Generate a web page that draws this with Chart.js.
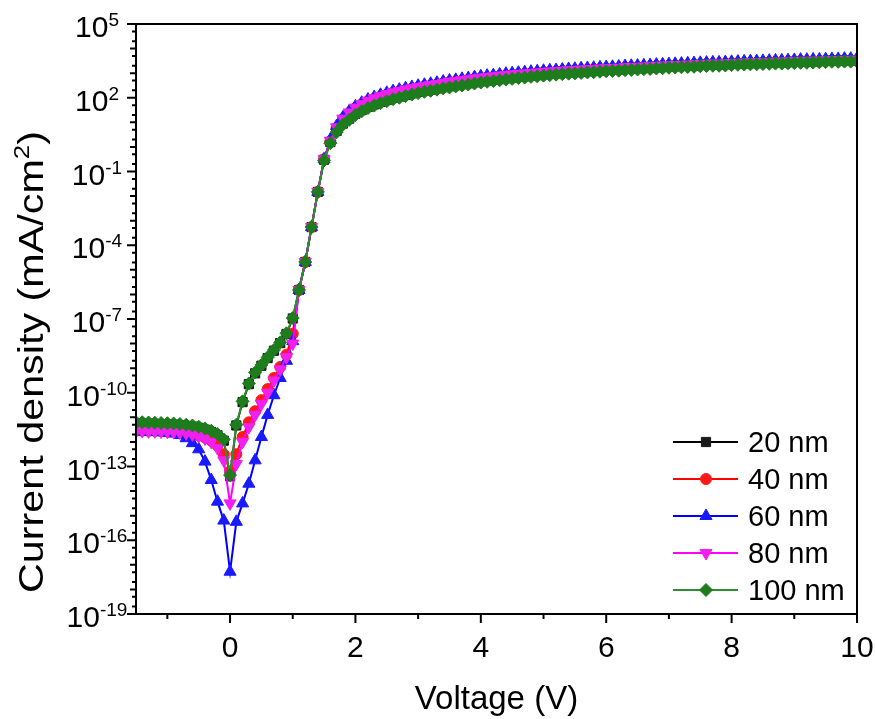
<!DOCTYPE html>
<html>
<head>
<meta charset="utf-8">
<script src="https://cdn.jsdelivr.net/npm/chart.js@4.4.1/dist/chart.umd.min.js"></script>
<style>
  html, body { margin: 0; padding: 0; background: #ffffff; }
  #wrap { width: 875px; height: 719px; }
</style>
</head>
<body>
<div id="wrap"><canvas id="jv" width="875" height="719"></canvas></div>
<script>
// Applied voltage (V)
const voltage = [
  -1.5,-1.4,-1.3,-1.2,-1.1,-1.0,-0.9,-0.8,-0.7,-0.6,-0.5,-0.4,-0.3,-0.2,-0.1,0.0,
  0.1,0.2,0.3,0.4,0.5,0.6,0.7,0.8,0.9,1.0,
  1.1,1.2,1.3,1.4,1.5,1.6,1.7,1.8,1.9,2.0,
  2.1,2.2,2.3,2.4,2.5,2.6,2.7,2.8,2.9,3.0,
  3.1,3.2,3.3,3.4,3.5,3.6,3.7,3.8,3.9,4.0,
  4.1,4.2,4.3,4.4,4.5,4.6,4.7,4.8,4.9,5.0,
  5.1,5.2,5.3,5.4,5.5,5.6,5.7,5.8,5.9,6.0,
  6.1,6.2,6.3,6.4,6.5,6.6,6.7,6.8,6.9,7.0,
  7.1,7.2,7.3,7.4,7.5,7.6,7.7,7.8,7.9,8.0,
  8.1,8.2,8.3,8.4,8.5,8.6,8.7,8.8,8.9,9.0,
  9.1,9.2,9.3,9.4,9.5,9.6,9.7,9.8,9.9,10.0
];

// Current density, in decades: log10(J / mA cm^-2)
const logJ20 = [
  -11.25,-11.25,-11.26,-11.27,-11.28,-11.29,-11.3,-11.32,-11.35,-11.38,-11.43,-11.5,-11.6,-11.73,-11.95,-13.4,
  -11.33,-10.38,-9.65,-9.21,-8.9,-8.59,-8.29,-7.98,-7.61,-6.98,
  -5.82,-4.68,-3.26,-1.83,-0.52,0.2,0.65,0.95,1.15,1.35,
  1.5,1.63,1.73,1.83,1.91,1.99,2.05,2.12,2.18,2.24,
  2.29,2.33,2.38,2.43,2.47,2.51,2.55,2.59,2.63,2.67,
  2.7,2.73,2.76,2.79,2.82,2.85,2.87,2.9,2.92,2.95,
  2.97,2.99,3.01,3.03,3.04,3.06,3.08,3.09,3.11,3.13,
  3.14,3.15,3.17,3.18,3.2,3.21,3.22,3.24,3.25,3.27,
  3.28,3.29,3.3,3.31,3.33,3.34,3.35,3.35,3.36,3.38,
  3.39,3.4,3.41,3.41,3.42,3.43,3.44,3.44,3.45,3.46,
  3.47,3.47,3.48,3.49,3.5,3.51,3.51,3.52,3.52,3.53
];
const logJ40 = [
  -11.54,-11.54,-11.55,-11.55,-11.56,-11.57,-11.58,-11.6,-11.63,-11.68,-11.74,-11.82,-11.95,-12.15,-12.5,-13.2,
  -12.5,-11.8,-11.2,-10.75,-10.3,-9.85,-9.4,-8.95,-8.45,-7.6,
  -5.82,-4.68,-3.26,-1.83,-0.5,0.23,0.78,1.13,1.38,1.58,
  1.73,1.86,1.96,2.05,2.13,2.2,2.26,2.32,2.37,2.42,
  2.46,2.5,2.54,2.59,2.63,2.66,2.7,2.73,2.77,2.8,
  2.83,2.85,2.88,2.91,2.93,2.95,2.97,2.99,3.01,3.03,
  3.05,3.06,3.08,3.1,3.11,3.13,3.14,3.15,3.17,3.18,
  3.19,3.2,3.22,3.23,3.24,3.25,3.26,3.28,3.29,3.3,
  3.31,3.32,3.33,3.34,3.35,3.36,3.37,3.37,3.38,3.39,
  3.4,3.41,3.42,3.42,3.43,3.44,3.45,3.45,3.46,3.47,
  3.48,3.48,3.49,3.49,3.5,3.51,3.51,3.52,3.52,3.53
];
const logJ60 = [
  -11.58,-11.58,-11.59,-11.6,-11.61,-11.63,-11.66,-11.72,-11.85,-12.05,-12.3,-12.8,-13.55,-14.43,-15.2,-17.28,
  -15.25,-14.5,-13.7,-12.75,-11.8,-10.9,-10.1,-9.4,-8.7,-7.9,
  -5.82,-4.68,-3.26,-1.83,-0.5,0.3,0.85,1.2,1.45,1.65,
  1.8,1.93,2.03,2.12,2.2,2.27,2.33,2.39,2.44,2.49,
  2.53,2.57,2.61,2.66,2.7,2.73,2.77,2.8,2.84,2.87,
  2.9,2.92,2.95,2.98,3.0,3.02,3.04,3.06,3.08,3.1,
  3.12,3.13,3.15,3.17,3.18,3.2,3.21,3.22,3.24,3.25,
  3.26,3.27,3.29,3.3,3.31,3.32,3.33,3.35,3.36,3.37,
  3.38,3.39,3.4,3.41,3.42,3.43,3.44,3.44,3.45,3.46,
  3.47,3.48,3.49,3.49,3.5,3.51,3.52,3.52,3.53,3.54,
  3.55,3.55,3.56,3.56,3.57,3.58,3.58,3.59,3.59,3.6
];
const logJ80 = [
  -11.56,-11.56,-11.57,-11.57,-11.58,-11.59,-11.6,-11.62,-11.65,-11.7,-11.77,-11.86,-12.0,-12.25,-12.75,-14.5,
  -12.9,-12.0,-11.4,-10.9,-10.45,-10.0,-9.5,-9.05,-8.55,-8.0,
  -5.82,-4.68,-3.26,-1.83,-0.5,0.25,0.8,1.15,1.4,1.6,
  1.75,1.88,1.98,2.07,2.15,2.22,2.28,2.34,2.39,2.44,
  2.48,2.52,2.56,2.61,2.65,2.68,2.72,2.75,2.79,2.82,
  2.85,2.87,2.9,2.93,2.95,2.97,2.99,3.01,3.03,3.05,
  3.07,3.08,3.1,3.12,3.13,3.15,3.16,3.17,3.19,3.2,
  3.21,3.22,3.24,3.25,3.26,3.27,3.28,3.3,3.31,3.32,
  3.33,3.34,3.35,3.36,3.37,3.38,3.39,3.39,3.4,3.41,
  3.42,3.43,3.44,3.44,3.45,3.46,3.47,3.47,3.48,3.49,
  3.5,3.5,3.51,3.51,3.52,3.53,3.53,3.54,3.54,3.55
];
const logJ100 = [
  -11.2,-11.2,-11.21,-11.22,-11.23,-11.24,-11.25,-11.27,-11.3,-11.33,-11.38,-11.45,-11.55,-11.68,-11.9,-13.35,
  -11.3,-10.35,-9.62,-9.18,-8.87,-8.56,-8.26,-7.95,-7.58,-6.96,
  -5.82,-4.68,-3.26,-1.83,-0.55,0.15,0.6,0.9,1.1,1.3,
  1.45,1.58,1.68,1.78,1.86,1.94,2.0,2.07,2.13,2.19,
  2.24,2.28,2.33,2.38,2.42,2.46,2.5,2.54,2.58,2.62,
  2.65,2.68,2.71,2.74,2.77,2.8,2.82,2.85,2.87,2.9,
  2.92,2.94,2.96,2.98,2.99,3.01,3.03,3.04,3.06,3.08,
  3.09,3.1,3.12,3.13,3.15,3.16,3.17,3.19,3.2,3.22,
  3.23,3.24,3.25,3.26,3.28,3.29,3.3,3.3,3.31,3.33,
  3.34,3.35,3.36,3.36,3.37,3.38,3.39,3.39,3.4,3.41,
  3.42,3.42,3.43,3.44,3.45,3.46,3.46,3.47,3.47,3.48
];

const seriesLabels = ['20 nm', '40 nm', '60 nm', '80 nm', '100 nm'];

// Axis ticks
const xMajorTicks = [0, 2, 4, 6, 8, 10];
const xMinorTicks = [-1, 1, 3, 5, 7, 9];
const yLabelExps = [5, 2, -1, -4, -7, -10, -13, -16, -19];

const FONT = '"Liberation Sans", Arial, Helvetica, sans-serif';

function toPoints(logs) {
  return voltage.map((v, i) => ({ x: v, y: Math.pow(10, logs[i]) }));
}

const styles = [
  { line: '#000000', fill: '#1a1a1a', pointStyle: 'rect',     radius: 6.5, rotation: 0 },
  { line: '#ff0000', fill: '#ff1a1a', pointStyle: 'circle',   radius: 5.5, rotation: 0 },
  { line: '#0000ff', fill: '#1a1aff', pointStyle: 'triangle', radius: 7,   rotation: 0 },
  { line: '#ff00ff', fill: '#f020f0', pointStyle: 'triangle', radius: 7,   rotation: 180 },
  { line: '#2e8f2e', fill: '#1d7d1d', pointStyle: 'rectRot',  radius: 6.5, rotation: 0 }
];
const seriesLogs = [logJ20, logJ40, logJ60, logJ80, logJ100];

const datasets = seriesLogs.map((logs, i) => ({
  label: seriesLabels[i],
  data: toPoints(logs),
  borderColor: styles[i].line,
  borderWidth: 2,
  backgroundColor: styles[i].fill,
  pointBackgroundColor: styles[i].fill,
  pointBorderColor: styles[i].fill,
  pointBorderWidth: 1,
  pointStyle: styles[i].pointStyle,
  pointRadius: styles[i].radius,
  pointRotation: styles[i].rotation,
  tension: 0,
  order: 5 - i // thicker films drawn on top
}));

function plainText(ctx, s, x, y, size, align) {
  ctx.font = size + 'px ' + FONT;
  ctx.textAlign = align;
  ctx.textBaseline = 'alphabetic';
  ctx.fillText(s, x, y);
}

const framePlugin = {
  id: 'frame',
  afterDatasetsDraw(chart) {
    const ctx = chart.ctx;
    const { left, right, top, bottom } = chart.chartArea;
    const xs = chart.scales.x, ys = chart.scales.y;
    ctx.save();
    ctx.fillStyle = '#000';
    ctx.strokeStyle = '#000';

    // frame
    ctx.lineWidth = 2;
    ctx.strokeRect(left, top, right - left, bottom - top);

    // x ticks (outward)
    ctx.beginPath();
    xMajorTicks.forEach(v => { const p = xs.getPixelForValue(v); ctx.moveTo(p, bottom); ctx.lineTo(p, bottom + 9); });
    xMinorTicks.forEach(v => { const p = xs.getPixelForValue(v); ctx.moveTo(p, bottom); ctx.lineTo(p, bottom + 5); });
    ctx.stroke();

    // y ticks (outward): labelled decades, every decade, and x2 / x5 marks
    ctx.beginPath();
    for (let e = -19; e <= 5; e++) {
      const p = ys.getPixelForValue(Math.pow(10, e));
      const len = yLabelExps.includes(e) ? 9 : 6;
      ctx.moveTo(left, p); ctx.lineTo(left - len, p);
      if (e < 5) {
        [2, 5].forEach(m => {
          const q = ys.getPixelForValue(m * Math.pow(10, e));
          ctx.moveTo(left, q); ctx.lineTo(left - 4, q);
        });
      }
    }
    ctx.stroke();

    // x tick labels
    xMajorTicks.forEach(v => {
      plainText(ctx, String(v), xs.getPixelForValue(v), bottom + 43, 30, 'center');
    });

    // y tick labels: 10 with superscript exponent, centred in the label column
    const labelCenterX = 97;
    yLabelExps.forEach(e => {
      const p = ys.getPixelForValue(Math.pow(10, e));
      const exp = String(e);
      ctx.font = '19px ' + FONT;
      const wExp = ctx.measureText(exp).width;
      ctx.font = '30px ' + FONT;
      const wBase = ctx.measureText('10').width;
      const x0 = labelCenterX - (wBase + wExp) / 2;
      plainText(ctx, '10', x0, p + 13, 30, 'left');
      plainText(ctx, exp, x0 + wBase, p + 2, 19, 'left');
    });

    // x axis title
    plainText(ctx, 'Voltage (V)', (left + right) / 2, 709, 33, 'center');

    // y axis title (rotated, with superscript 2)
    {
      const main = 'Current density (mA/cm';
      const sup = '2';
      const tail = ')';
      const fs = 35, fsSup = 22;
      ctx.save();
      ctx.translate(31, 362);
      ctx.rotate(-Math.PI / 2);
      ctx.scale(1.18, 1);
      ctx.font = fs + 'px ' + FONT;
      const wMain = ctx.measureText(main).width;
      const wTail = ctx.measureText(tail).width;
      ctx.font = fsSup + 'px ' + FONT;
      const wSup = ctx.measureText(sup).width;
      const total = wMain + wSup + wTail;
      let x = -total / 2;
      ctx.textBaseline = 'alphabetic';
      ctx.textAlign = 'left';
      ctx.font = fs + 'px ' + FONT;
      ctx.fillText(main, x, 12);
      x += wMain;
      ctx.font = fsSup + 'px ' + FONT;
      ctx.fillText(sup, x, -2);
      x += wSup;
      ctx.font = fs + 'px ' + FONT;
      ctx.fillText(tail, x, 12);
      ctx.restore();
    }

    // legend
    const rowY0 = 442, rowStep = 37;
    chart.data.datasets.forEach((ds, i) => {
      const y = rowY0 + i * rowStep;
      ctx.strokeStyle = ds.borderColor;
      ctx.lineWidth = 2;
      ctx.beginPath();
      ctx.moveTo(673, y); ctx.lineTo(738, y);
      ctx.stroke();
      ctx.fillStyle = ds.pointBackgroundColor;
      ctx.strokeStyle = ds.pointBorderColor;
      ctx.lineWidth = 1;
      Chart.helpers.drawPoint(ctx, {
        pointStyle: ds.pointStyle, rotation: ds.pointRotation,
        radius: ds.pointRadius, borderWidth: 1
      }, 706, y);
      ctx.fillStyle = '#000';
      plainText(ctx, ds.label, 748, y + 10, 29, 'left');
    });

    ctx.restore();
  }
};

new Chart(document.getElementById('jv'), {
  type: 'line',
  data: { datasets },
  options: {
    responsive: false,
    animation: false,
    devicePixelRatio: 1,
    events: [],
    layout: { padding: { left: 136, right: 18, top: 24, bottom: 105 } },
    scales: {
      x: { type: 'linear', min: -1.5, max: 10, display: false },
      y: { type: 'logarithmic', min: 1e-19, max: 1e5, display: false }
    },
    plugins: { legend: { display: false }, tooltip: { enabled: false } }
  },
  plugins: [framePlugin]
});
</script>
</body>
</html>
